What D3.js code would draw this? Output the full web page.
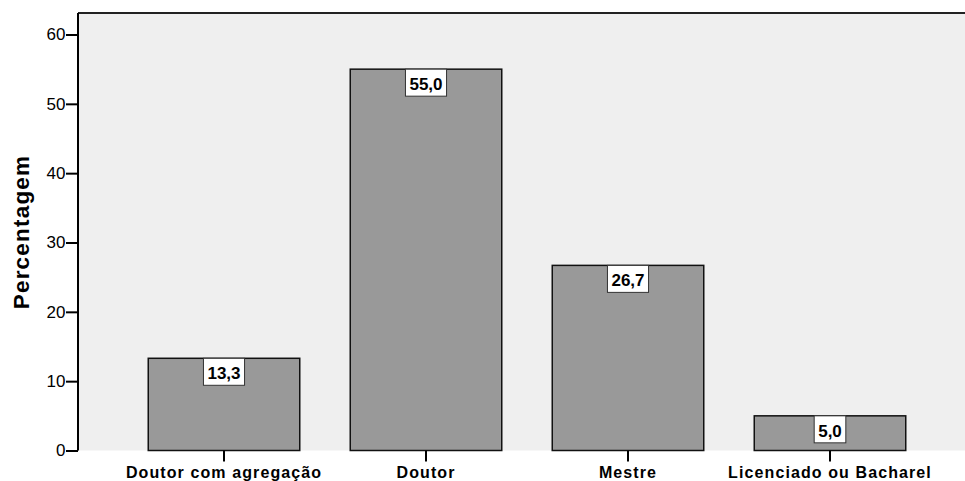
<!DOCTYPE html>
<html><head><meta charset="utf-8">
<script src="https://cdn.jsdelivr.net/npm/d3@7"></script>
<style>body{margin:0;background:#fff;} text{font-family:"Liberation Sans",Arial,sans-serif;}</style>
</head><body>
<svg id="c" width="965" height="481"></svg>
<script>
const categories = ["Doutor com agregação", "Doutor", "Mestre", "Licenciado ou Bacharel"];
const values = [13.3, 55.0, 26.7, 5.0];
const labels = ["13,3", "55,0", "26,7", "5,0"];
const yTicks = [0, 10, 20, 30, 40, 50, 60];

const svg = d3.select("#c");
const L = 78, R = 965, T = 13, B = 450.5;
const x = d3.scaleBand().domain(categories).range([123, 931]).paddingInner(0.25).paddingOuter(0.125);
const y = d3.scaleLinear().domain([0, 63.1]).range([B, T]);

svg.append("rect").attr("x", L).attr("y", T).attr("width", R - L).attr("height", B - T).attr("fill", "#efefef");
svg.append("line").attr("x1", L).attr("x2", R).attr("y1", T).attr("y2", T).attr("stroke", "#222").attr("stroke-width", 2);

svg.selectAll(".bar").data(values).enter().append("rect")
  .attr("x", (d, i) => x(categories[i]))
  .attr("y", d => y(d))
  .attr("width", x.bandwidth())
  .attr("height", d => B - y(d))
  .attr("fill", "#999999").attr("stroke", "#111").attr("stroke-width", 1.5);

// value labels
const lg = svg.selectAll(".lab").data(values).enter().append("g")
  .attr("transform", (d, i) => `translate(${x(categories[i]) + x.bandwidth() / 2},${y(d)})`);
lg.append("text").text((d, i) => labels[i])
  .attr("text-anchor", "middle").attr("y", 21)
  .attr("font-size", 17).attr("font-weight", "bold").attr("fill", "#000")
  .each(function () {
    const bb = this.getBBox();
    d3.select(this.parentNode).insert("rect", "text")
      .attr("x", -(bb.width + 8) / 2).attr("y", 0).attr("width", bb.width + 8).attr("height", 27)
      .attr("fill", "#fff").attr("stroke", "#333").attr("stroke-width", 1);
  });

// y axis
const ya = svg.append("g").attr("transform", `translate(${L},0)`)
  .call(d3.axisLeft(y).tickValues(yTicks).tickSize(12).tickPadding(0.5));
ya.select(".domain").attr("stroke", "#000").attr("stroke-width", 2).attr("d", `M0,${T}V${B}`);
ya.selectAll(".tick line").attr("stroke", "#000").attr("stroke-width", 2);
ya.selectAll(".tick text").attr("font-size", 17).attr("fill", "#000").attr("font-family", "Liberation Sans, Arial, sans-serif");

// x axis
const xa = svg.append("g").attr("transform", `translate(0,${B})`)
  .call(d3.axisBottom(x).tickSize(11).tickPadding(5.5));
xa.select(".domain").remove();
xa.selectAll(".tick line").attr("stroke", "#000").attr("stroke-width", 2);
xa.selectAll(".tick text").attr("font-size", 16).attr("font-weight", "bold").attr("fill", "#000")
  .attr("letter-spacing", "1.1px").attr("font-family", "Liberation Sans, Arial, sans-serif");

svg.append("text").text("Percentagem")
  .attr("transform", `translate(29,232) rotate(-90)`)
  .attr("text-anchor", "middle").attr("font-size", 22.5).attr("font-weight", "bold").attr("fill", "#000")
  .attr("letter-spacing", "1.2px");
</script>
</body></html>
